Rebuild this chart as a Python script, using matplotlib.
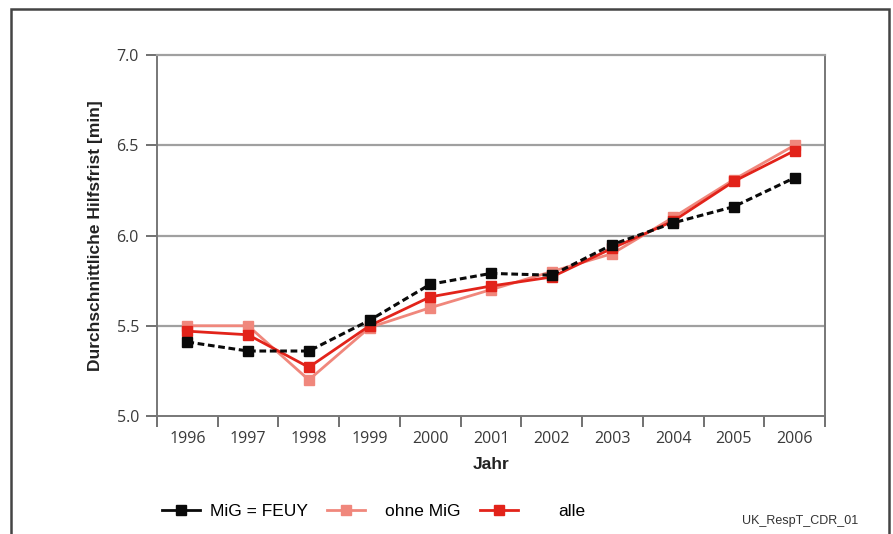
import matplotlib
matplotlib.use("Agg")
import matplotlib.pyplot as plt
from matplotlib.lines import Line2D
from matplotlib.patches import Rectangle
import numpy as np

years = ["1996", "1997", "1998", "1999", "2000", "2001", "2002", "2003", "2004", "2005", "2006"]
mig_feuy = [5.41, 5.36, 5.36, 5.53, 5.73, 5.79, 5.78, 5.95, 6.07, 6.16, 6.32]
ohne_mig = [5.50, 5.50, 5.20, 5.49, 5.60, 5.70, 5.80, 5.90, 6.10, 6.31, 6.50]
alle = [5.47, 5.45, 5.27, 5.50, 5.66, 5.72, 5.77, 5.93, 6.08, 6.30, 6.47]
y_ticks = [5.0, 5.5, 6.0, 6.5, 7.0]

c_black = "#0a0a0a"
c_ohne = "#f0877c"
c_alle = "#e2231a"
grid_c = "#a0a0a0"
tick_c = "#3a3a3a"

fig = plt.figure(figsize=(8.93, 5.34), dpi=100)
fig.patch.set_facecolor("white")
ax = fig.add_axes([157/893, 1-416/534, (825-157)/893, (416-55)/534])

x = np.arange(len(years))
ax.plot(x, ohne_mig, color=c_ohne, lw=2.0, marker="s", ms=7, mec=c_ohne, mfc=c_ohne, zorder=3)
ax.plot(x, alle, color=c_alle, lw=2.0, marker="s", ms=7, mec=c_alle, mfc=c_alle, zorder=4)
ax.plot(x, mig_feuy, color=c_black, lw=2.2, ls=(0, (2.2, 1.2)), marker="s", ms=7,
        mec=c_black, mfc=c_black, zorder=5)

ax.set_xlim(-0.5, len(years) - 0.5)
ax.set_ylim(5.0, 7.0)
ax.set_yticks(y_ticks)
ax.set_yticklabels([f"{v:.1f}" for v in y_ticks], fontsize=11.5, color=tick_c, family="Open Sans")
ax.set_xticks(x)
ax.set_xticklabels(years, fontsize=11.5, color=tick_c, family="Open Sans")
ax.set_xticks(np.arange(-0.5, len(years), 1.0), minor=True)
ax.tick_params(axis="x", which="major", length=0, pad=11)
ax.tick_params(axis="x", which="minor", length=8, width=1.3, color="#666666", direction="out")
ax.tick_params(axis="y", length=8, width=1.3, color="#666666", direction="out", pad=5)

for v in y_ticks[1:4]:
    ax.axhline(v, color=grid_c, lw=1.6, zorder=1)
for s in ax.spines.values():
    s.set_color("#777777")
    s.set_linewidth(1.4)
ax.spines["top"].set_color(grid_c)
ax.spines["top"].set_linewidth(1.6)

ax.set_ylabel("Durchschnittliche Hilfsfrist [min]", fontsize=12.5, fontweight="bold",
              family="Liberation Sans", color="#222222", labelpad=10)
ax.set_xlabel("Jahr", fontsize=12.5, fontweight="bold", family="Liberation Sans",
              color="#222222", labelpad=7)

# legend entries
entries = [
    ("MiG = FEUY", c_black, 160/893, 0.55),
    ("ohne MiG", c_ohne, 325/893, 1.15),
    ("alle", c_alle, 478/893, 2.3),
]
for label, col, xpos, pad in entries:
    h = Line2D([], [], color=col, lw=2.0, ls="-", marker="s", ms=7, mec=col, mfc=col)
    fig.legend(handles=[h], labels=[label], loc="center left",
               bbox_to_anchor=(xpos - 0.0155, 1 - 511/534), frameon=False,
               handlelength=2.2, handletextpad=pad,
               prop={"family": "Liberation Sans", "size": 12.5})

fig.text(858/893, 1 - 521/534, "UK_RespT_CDR_01", fontsize=9, ha="right", va="center",
         family="Liberation Sans", color="#333333")

fig.patches.append(Rectangle((11/893, -0.05), (889-11)/893, 1.05 - 9/534,
                             transform=fig.transFigure, fill=False,
                             edgecolor="#444444", lw=1.8))

fig.savefig("out.png", dpi=100)
